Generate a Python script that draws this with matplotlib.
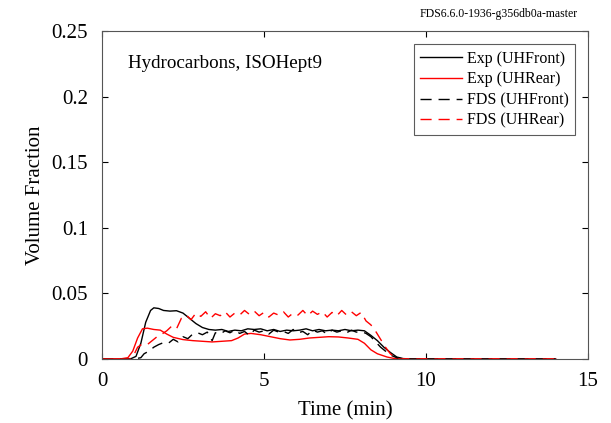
import matplotlib.pyplot as plt

plt.rcParams['font.family'] = ['Liberation Serif', 'DejaVu Serif']

# Exp (UHFront)
t_exp_front = [0, 0.5, 0.9, 1.05, 1.2, 1.35, 1.5, 1.6, 1.75, 1.9, 2.1, 2.3, 2.5, 2.7, 2.9, 3.1,
               3.3, 3.5, 3.7, 3.9, 4.1, 4.3, 4.5, 4.7, 4.9, 5.1, 5.3, 5.5, 5.7, 5.9, 6.1, 6.3,
               6.5, 6.7, 6.9, 7.1, 7.3, 7.5, 7.7, 7.9, 8.1, 8.3, 8.5, 8.7, 8.9, 9.1, 9.3, 9.6, 14]
v_exp_front = [0, 0, 0.0003, 0.002, 0.012, 0.028, 0.037, 0.039, 0.0385, 0.037, 0.0365, 0.0368,
               0.035, 0.031, 0.027, 0.024, 0.0225, 0.022, 0.0225, 0.021, 0.022, 0.0215, 0.023,
               0.0225, 0.023, 0.0215, 0.0225, 0.021, 0.022, 0.0215, 0.022, 0.023, 0.0215, 0.0225,
               0.0215, 0.022, 0.0215, 0.0225, 0.0215, 0.022, 0.0215, 0.018, 0.014, 0.009, 0.005,
               0.0015, 0.0003, 0, 0]

# Exp (UHRear)
t_exp_rear = [0, 0.6, 0.8, 0.95, 1.1, 1.25, 1.4, 1.6, 1.8, 2.0, 2.2, 2.5, 2.8, 3.1, 3.4, 3.7,
              4.0, 4.2, 4.4, 4.6, 4.9, 5.2, 5.5, 5.8, 6.1, 6.4, 6.7, 7.0, 7.3, 7.6, 7.9, 8.1,
              8.3, 8.5, 8.8, 9.0, 9.3, 14]
v_exp_rear = [0, 0.0002, 0.001, 0.006, 0.016, 0.023, 0.0235, 0.0225, 0.022, 0.019, 0.0165,
              0.0148, 0.014, 0.0135, 0.013, 0.0135, 0.014, 0.016, 0.019, 0.0195, 0.0185, 0.017,
              0.0155, 0.0145, 0.015, 0.016, 0.0165, 0.017, 0.0168, 0.016, 0.015, 0.012, 0.007,
              0.004, 0.0015, 0.0005, 0, 0]

# FDS (UHFront)
t_fds_front = [0, 1.0, 1.2, 1.3, 1.45, 1.6, 1.75, 1.9, 2.05, 2.2, 2.35, 2.5, 2.65, 2.8, 2.95,
               3.1, 3.25, 3.4, 3.5, 3.65, 3.8, 3.95, 4.1, 4.25, 4.4, 4.55, 4.7, 4.85, 5.0, 5.15,
               5.3, 5.45, 5.6, 5.75, 5.9, 6.05, 6.2, 6.35, 6.5, 6.65, 6.8, 6.95, 7.1, 7.25, 7.4,
               7.55, 7.7, 7.85, 8.0, 8.15, 8.3, 8.45, 8.6, 8.75, 8.9, 9.1, 9.3, 14]
v_fds_front = [0, 0, 0.001, 0.004, 0.006, 0.009, 0.011, 0.0125, 0.012, 0.015, 0.013, 0.017,
               0.0155, 0.019, 0.02, 0.0185, 0.0205, 0.014, 0.02, 0.019, 0.0215, 0.02, 0.022,
               0.0195, 0.021, 0.018, 0.022, 0.0205, 0.0215, 0.019, 0.022, 0.0205, 0.021, 0.0195,
               0.0225, 0.02, 0.021, 0.0185, 0.022, 0.0205, 0.0215, 0.019, 0.022, 0.0205, 0.0215,
               0.02, 0.022, 0.0205, 0.021, 0.0195, 0.017, 0.013, 0.009, 0.006, 0.003, 0.001, 0, 0]

# FDS (UHRear)
t_fds_rear = [0, 0.9, 1.0, 1.1, 1.25, 1.4, 1.55, 1.7, 1.85, 2.0, 2.15, 2.3, 2.45, 2.6, 2.75,
              2.9, 3.05, 3.2, 3.35, 3.5, 3.65, 3.8, 3.95, 4.1, 4.25, 4.4, 4.55, 4.7, 4.85, 5.0,
              5.15, 5.3, 5.45, 5.6, 5.75, 5.9, 6.05, 6.2, 6.35, 6.5, 6.65, 6.8, 6.95, 7.1, 7.25,
              7.4, 7.55, 7.7, 7.85, 8.0, 8.15, 8.3, 8.45, 8.6, 8.75, 8.9, 9.05, 9.2, 14]
v_fds_rear = [0, 0, 0.004, 0.009, 0.0115, 0.011, 0.014, 0.017, 0.019, 0.0215, 0.025, 0.023,
              0.031, 0.0335, 0.03, 0.035, 0.0325, 0.036, 0.031, 0.0345, 0.033, 0.036, 0.032,
              0.035, 0.0335, 0.037, 0.034, 0.0365, 0.033, 0.0355, 0.032, 0.035, 0.0335, 0.036,
              0.032, 0.035, 0.0335, 0.037, 0.033, 0.0365, 0.034, 0.036, 0.032, 0.0355, 0.033,
              0.037, 0.0335, 0.036, 0.033, 0.0355, 0.029, 0.026, 0.021, 0.015, 0.009, 0.004,
              0.001, 0, 0]

x_ticks = [0, 5, 10, 15]
y_ticks = [0, 0.05, 0.1, 0.15, 0.2, 0.25]
y_tick_labels = ['0', '0.05', '0.1', '0.15', '0.2', '0.25']

fig = plt.figure(figsize=(6.11, 4.23), dpi=100)
ax = fig.add_axes([0.1669, 0.1513, 0.7954, 0.7754])

ax.plot(t_exp_front, v_exp_front, color='black', lw=1.0, label='Exp (UHFront)')
ax.plot(t_exp_rear, v_exp_rear, color='red', lw=1.0, label='Exp (UHRear)')
ax.plot(t_fds_front, v_fds_front, color='black', lw=1.0, dashes=(8, 5), label='FDS (UHFront)')
ax.plot(t_fds_rear, v_fds_rear, color='red', lw=1.0, dashes=(8, 5), label='FDS (UHRear)')

ax.set_xlim(0, 15)
ax.set_ylim(0, 0.25)
ax.set_xticks(x_ticks)
ax.set_yticks(y_ticks)
ax.set_yticklabels(y_tick_labels)
ax.tick_params(direction='in', top=True, right=True, labelsize=15, length=4)
ax.tick_params(axis='x', pad=9)
ax.tick_params(axis='y', pad=10)
for s in ax.spines.values():
    s.set_color('#555555')

ax.set_xlabel('Time (min)', fontsize=15, labelpad=8)
ax.set_ylabel('Volume Fraction', fontsize=15, labelpad=4.5)

ax.text(0.053, 0.902, 'Hydrocarbons, ISOHept9', transform=ax.transAxes, fontsize=13.7,
        va='center', ha='left')
fig.text(0.946, 0.967, 'FDS6.6.0-1936-g356db0a-master', fontsize=8.5, ha='right', va='center')

leg = ax.legend(loc='upper right', bbox_to_anchor=(0.973, 0.960), borderaxespad=0,
                fontsize=11.5, frameon=True, fancybox=False, handlelength=2.6,
                borderpad=0.4, labelspacing=0.3, handletextpad=0.3)
leg.get_frame().set_edgecolor('#333333')
leg.get_frame().set_linewidth(0.8)

fig.savefig('out.png', dpi=100)
